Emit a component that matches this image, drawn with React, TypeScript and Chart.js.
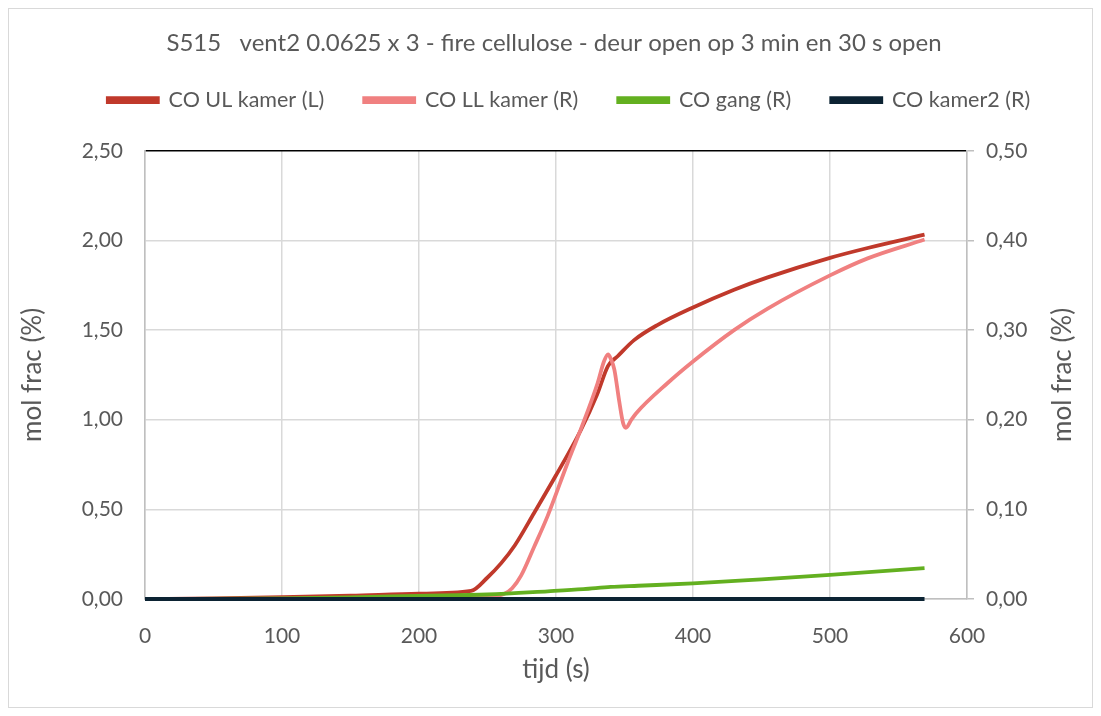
import React, { useEffect, useRef } from "react";
import { Chart, registerables } from "chart.js";

Chart.register(...registerables);

const TITLE = "S515   vent2 0.0625 x 3 - fire cellulose - deur open op 3 min en 30 s open";
const X_TITLE = "tijd (s)";
const Y_TITLE = "mol frac (%)";

const ulTimes = [0, 50, 100, 150, 200, 238, 250, 260, 270, 284, 300, 318, 330, 338, 345, 357, 374, 400, 430, 454.5, 500, 527.5, 569];
const ulValues = [0, 0.004, 0.01, 0.018, 0.03, 0.045, 0.12, 0.2, 0.3, 0.48, 0.69, 0.94, 1.14, 1.3, 1.354, 1.444, 1.528, 1.626, 1.725, 1.794, 1.903, 1.958, 2.032];

const llTimes = [0, 100, 200, 250, 262, 268, 274.5, 284, 294, 308.5, 318, 330.4, 335, 338, 340, 342.6, 346, 349, 351, 355, 358.4, 381.5, 400, 430, 454.5, 500, 527.5, 569];
const llValues = [0, 0.0005, 0.002, 0.003, 0.0056, 0.012, 0.026, 0.058, 0.093, 0.152, 0.189, 0.241, 0.265, 0.273, 0.268, 0.256, 0.222, 0.196, 0.191, 0.2, 0.207, 0.241, 0.265, 0.3, 0.324, 0.361, 0.38, 0.401];

const gangTimes = [0, 100, 150, 200, 250, 294, 320, 340, 360, 400, 450, 500, 569];
const gangValues = [0, 0.0008, 0.0018, 0.0035, 0.005, 0.0086, 0.011, 0.0135, 0.0148, 0.0174, 0.022, 0.027, 0.0344];

const kamer2Times = [0, 100, 200, 300, 400, 500, 569];
const kamer2Values = [0, 0, 0, 0, 0, 0, 0];

const seriesNames = ["CO UL kamer (L)", "CO LL kamer (R)", "CO gang (R)", "CO kamer2 (R)"];
const seriesColors = ["#C0392B", "#F08080", "#63B020", "#0C2333"];

const pts = (t: number[], v: number[]) => t.map((x, i) => ({ x, y: v[i] }));

const TEXT = "#595959";
const FONT = "Lato";
const AXIS_TITLE_SIZE = 26;

const rightTitlePlugin = {
  id: "rightTitle",
  afterDraw(chart: any) {
    const { ctx, chartArea } = chart;
    ctx.save();
    ctx.fillStyle = TEXT;
    ctx.font = `${AXIS_TITLE_SIZE}px ${FONT}`;
    ctx.textAlign = "center";
    ctx.textBaseline = "middle";
    ctx.translate(chart.width - 29, (chartArea.top + chartArea.bottom) / 2);
    ctx.rotate(-Math.PI / 2);
    ctx.fillText(Y_TITLE, 0, 0);
    ctx.restore();
  },
};

// shift the legend a little to the right, as in the original chart
const legendShiftPlugin = {
  id: "legendShift",
  afterLayout(chart: any) {
    if (chart.legend) chart.legend.left += 30;
  },
};

const fmt = (v: any) => Number(v).toFixed(2).replace(".", ",");

export default function App() {
  const ref = useRef<HTMLCanvasElement | null>(null);
  useEffect(() => {
    if (!ref.current) return;
    const data = [pts(ulTimes, ulValues), pts(llTimes, llValues), pts(gangTimes, gangValues), pts(kamer2Times, kamer2Values)];
    const axes = ["y", "y1", "y1", "y1"];
    const orders = [4, 3, 2, 1];
    const chart = new Chart(ref.current, {
      type: "line",
      data: {
        datasets: data.map((d, i) => ({
          label: seriesNames[i],
          data: d,
          borderColor: seriesColors[i],
          backgroundColor: seriesColors[i],
          borderWidth: 3.8,
          pointRadius: 0,
          cubicInterpolationMode: "monotone" as const,
          yAxisID: axes[i],
          order: orders[i],
          clip: false as const,
        })),
      },
      options: {
        animation: false,
        responsive: false,
        maintainAspectRatio: false,
        layout: { padding: { left: 7, right: 0, top: 0, bottom: 22 } },
        plugins: {
          tooltip: { enabled: false },
          title: {
            display: true,
            text: TITLE,
            color: TEXT,
            font: { family: FONT, size: 24, weight: "normal" },
            padding: { top: 20, bottom: -8.5 },
          },
          legend: {
            display: true,
            labels: {
              color: TEXT,
              font: { family: FONT, size: 21.5 },
              boxWidth: 50,
              boxHeight: 4,
              padding: 40,
              sort: (a: any, b: any) => a.datasetIndex - b.datasetIndex,
            },
          },
        },
        scales: {
          x: {
            type: "linear",
            min: 0,
            max: 600,
            ticks: {
              stepSize: 100,
              color: TEXT,
              font: { family: FONT, size: 21 },
              padding: 25,
            },
            grid: { color: "#d9d9d9", lineWidth: 1.5, drawTicks: false },
            border: { color: "#bfbfbf", width: 1.5 },
            title: {
              display: true,
              text: X_TITLE,
              color: TEXT,
              font: { family: FONT, size: AXIS_TITLE_SIZE },
              padding: { top: 0, bottom: 0 },
            },
            afterFit: (s: any) => {
              s.height = 86;
            },
          },
          xTop: {
            type: "linear",
            position: "top",
            min: 0,
            max: 600,
            display: true,
            ticks: { display: false },
            grid: { display: false, drawTicks: false },
            border: { display: false },
            afterFit: (s: any) => {
              s.height = 30;
            },
          },
          y: {
            position: "left",
            min: 0,
            max: 2.5,
            ticks: {
              stepSize: 0.5,
              color: TEXT,
              font: { family: FONT, size: 21 },
              padding: 22,
              callback: fmt,
            },
            grid: {
              color: (c: any) => (c.tick && c.tick.value === 2.5 ? "#000000" : "#d9d9d9"),
              lineWidth: 1.5,
              drawTicks: false,
            },
            border: { color: "#bfbfbf", width: 1.5 },
            title: {
              display: true,
              text: Y_TITLE,
              color: TEXT,
              font: { family: FONT, size: AXIS_TITLE_SIZE },
              padding: { top: 1, bottom: 4 },
            },
            afterFit: (s: any) => {
              s.width = 129;
            },
          },
          y1: {
            position: "right",
            min: 0,
            max: 0.5,
            ticks: {
              stepSize: 0.1,
              color: TEXT,
              font: { family: FONT, size: 21 },
              padding: 12,
              callback: fmt,
            },
            grid: { drawOnChartArea: false, color: "#bfbfbf", tickLength: 7, lineWidth: 1.5 },
            border: { color: "#bfbfbf", width: 1.5 },
            afterFit: (s: any) => {
              s.width = 125;
            },
          },
        },
      },
      plugins: [rightTitlePlugin, legendShiftPlugin],
    });
    return () => chart.destroy();
  }, []);
  return (
    <div style={{ width: 1085, height: 700, border: "1px solid #d9d9d9", boxSizing: "border-box" }}>
      <canvas ref={ref} width={1083} height={698} style={{ display: "block" }} />
    </div>
  );
}
